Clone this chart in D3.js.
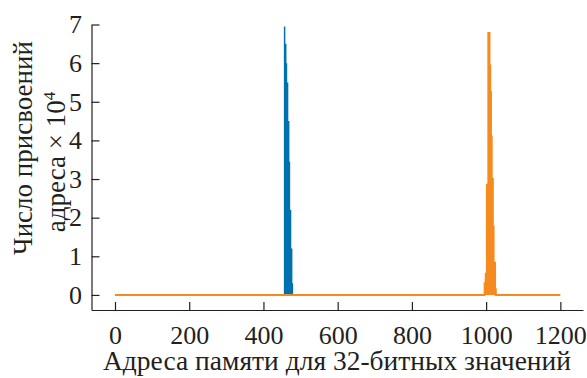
<!DOCTYPE html>
<html>
<head>
<meta charset="utf-8">
<script src="https://cdn.jsdelivr.net/npm/d3@7"></script>
<style>
  body { margin: 0; background: #fff; }
</style>
</head>
<body>
<svg id="chart" width="587" height="378"></svg>
<script>
// addresses (x) and counts x 10^4 (y)
const blueAddr = [0, 455, 459, 462, 464, 467, 470, 472, 475, 478, 480, 1200]
const blueVals = [0, 6.95, 6.5, 6.0, 5.5, 4.5, 3.45, 2.2, 1.2, 0.3, 0, 0]
const orangeAddr = [0, 996, 999, 1002, 1006, 1009, 1011, 1013, 1015, 1018, 1020, 1024, 1026, 1200]
const orangeVals = [0, 0.3, 0.55, 2.85, 6.78, 5.94, 5.25, 4.1, 3.0, 1.77, 0.83, 0.15, 0, 0]
const xTicks = [0, 200, 400, 600, 800, 1000, 1200]
const yTicks = [0, 1, 2, 3, 4, 5, 6, 7]

const svg = d3.select('#chart')
const fontSize = 26
const serif = "'Liberation Serif', 'Times New Roman', serif"
const ink = '#231f20'

const x = d3.scaleLinear().domain([-63.3, 1261]).range([91.5, 583])
const y = d3.scaleLinear().domain([-0.39, 7]).range([310, 24.5])

const zip = (xs, ys) => xs.map((a, i) => ({a: a, v: ys[i]}))

const area = d3.area()
  .x((d) => x(d.a))
  .y0(y(0))
  .y1((d) => y(d.v))
  .curve(d3.curveStepAfter)

const line = d3.line()
  .x((d) => x(d.a))
  .y((d) => y(d.v))
  .curve(d3.curveStepAfter)

// blue series
svg.append('path')
  .datum(zip(blueAddr, blueVals))
  .attr('d', area)
  .attr('fill', '#0070ae')

// orange series on top
svg.append('path')
  .datum(zip(orangeAddr, orangeVals))
  .attr('d', area)
  .attr('fill', '#f58a1f')

svg.append('path')
  .datum(zip(orangeAddr, orangeVals))
  .attr('d', line)
  .attr('fill', 'none')
  .attr('stroke', '#f58a1f')
  .attr('stroke-width', 2)

// axes, ticks pointing inward
const xAxis = svg.append('g')
  .attr('transform', `translate(0,${y.range()[0]})`)
  .call(d3.axisBottom(x).tickValues(xTicks).tickFormat(d3.format('d'))
    .tickSize(-8).tickSizeOuter(0))

const yAxis = svg.append('g')
  .attr('transform', `translate(${x.range()[0]},0)`)
  .call(d3.axisLeft(y).tickValues(yTicks).tickFormat(d3.format('d'))
    .tickSize(-8).tickSizeOuter(0).tickPadding(9.5))

for (const g of [xAxis, yAxis]) {
  g.attr('font-family', serif).attr('font-size', fontSize)
  g.selectAll('path, line').attr('stroke', ink).attr('stroke-width', 1.2)
  g.selectAll('text').attr('fill', ink)
}
xAxis.selectAll('text').attr('y', 33.5).attr('dy', 0)

// axis titles
svg.append('text')
  .attr('x', 337)
  .attr('y', 370)
  .attr('text-anchor', 'middle')
  .attr('font-family', serif)
  .attr('font-size', 27.5)
  .attr('fill', ink)
  .text('Адреса памяти для 32-битных значений')

svg.append('text')
  .attr('transform', 'translate(32,148) rotate(-90)')
  .attr('text-anchor', 'middle')
  .attr('font-family', serif)
  .attr('font-size', 27)
  .attr('fill', ink)
  .text('Число присвоений')

let t2 = svg.append('text')
  .attr('transform', 'translate(65,162) rotate(-90)')
  .attr('text-anchor', 'middle')
  .attr('font-family', serif)
  .attr('font-size', 27)
  .attr('fill', ink)
t2.append('tspan').text('адреса × 10')
t2.append('tspan').text('4')
  .attr('dy', -10)
  .attr('font-size', 17)
</script>
</body>
</html>
